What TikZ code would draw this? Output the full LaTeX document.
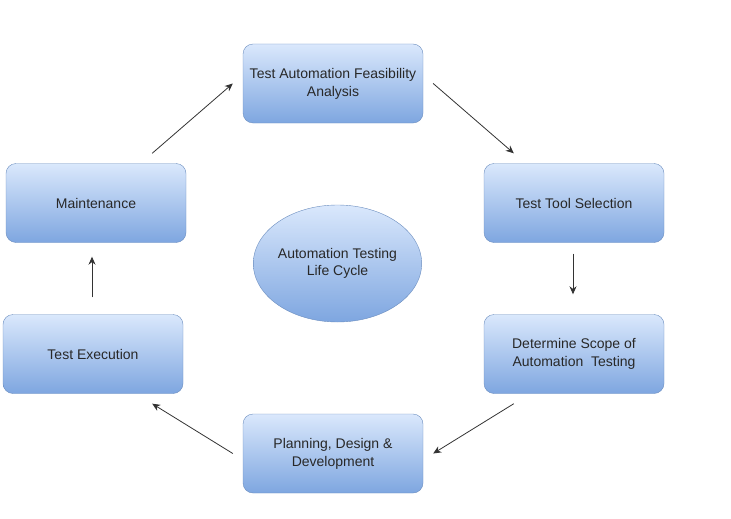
\documentclass[tikz,border=0pt]{standalone}
\usepackage{fontspec}
\setmainfont{Liberation Sans}
\usetikzlibrary{arrows.meta,shapes.geometric}
\definecolor{boxtop}{RGB}{218,232,252}
\definecolor{boxbot}{RGB}{126,166,224}
\definecolor{boxline}{RGB}{108,142,191}
\definecolor{txtgray}{RGB}{40,40,40}
\tikzset{
  stage/.style={draw=boxline, top color=boxtop, bottom color=boxbot, rounded corners=10pt,
    minimum width=180pt, minimum height=79pt, align=center, text=txtgray,
    font=\fontsize{14}{18}\selectfont},
  hub/.style={draw=boxline, top color=boxtop, bottom color=boxbot, ellipse,
    minimum width=163pt, minimum height=117pt, align=center, text=txtgray,
    font=\fontsize{14}{16.5}\selectfont, inner sep=0pt},
  flow/.style={-{Stealth[length=8pt,width=7pt]}, draw=black!80, line width=0.8pt}
}
\begin{document}
\begin{tikzpicture}[x=1pt,y=1pt,yscale=-1,xscale=1]
\useasboundingbox (0,0) rectangle (731,519);

%Shape: Rounded boxes
\node [stage] (feas) at (333,83.5) {Test Automation Feasibility\\Analysis};
\node [stage] (tool) at (574,203) {Test Tool Selection};
\node [stage] (scope) at (574,354) {Determine Scope of\\Automation\ \ Testing};
\node [stage] (plan) at (333,453.5) {Planning, Design \&\\Development};
\node [stage] (exec) at (93,354) {Test Execution};
\node [stage] (maint) at (96,203) {Maintenance};

%Shape: Ellipse
\node [hub] (atlc) at (337.5,263.5) {Automation Testing\\Life Cycle};

%Straight Lines
\draw [flow] ([shift={(-34,-10)}]maint.north east) -- ([xshift=-10]feas.west);
\draw [flow] ([xshift=10]feas.east) -- ([shift={(30,-10)}]tool.north west);
\draw [flow] ([shift={(-1,11)}]tool.south) -- ([shift={(-1,-20)}]scope.north);
\draw [flow] ([shift={(30,10)}]scope.south west) -- ([xshift=10]plan.east);
\draw [flow] ([xshift=-10]plan.west) -- ([shift={(-31,10)}]exec.south east);
\draw [flow] ([shift={(-1,-17)}]exec.north) -- ([shift={(-4,14)}]maint.south);

\end{tikzpicture}
\end{document}
